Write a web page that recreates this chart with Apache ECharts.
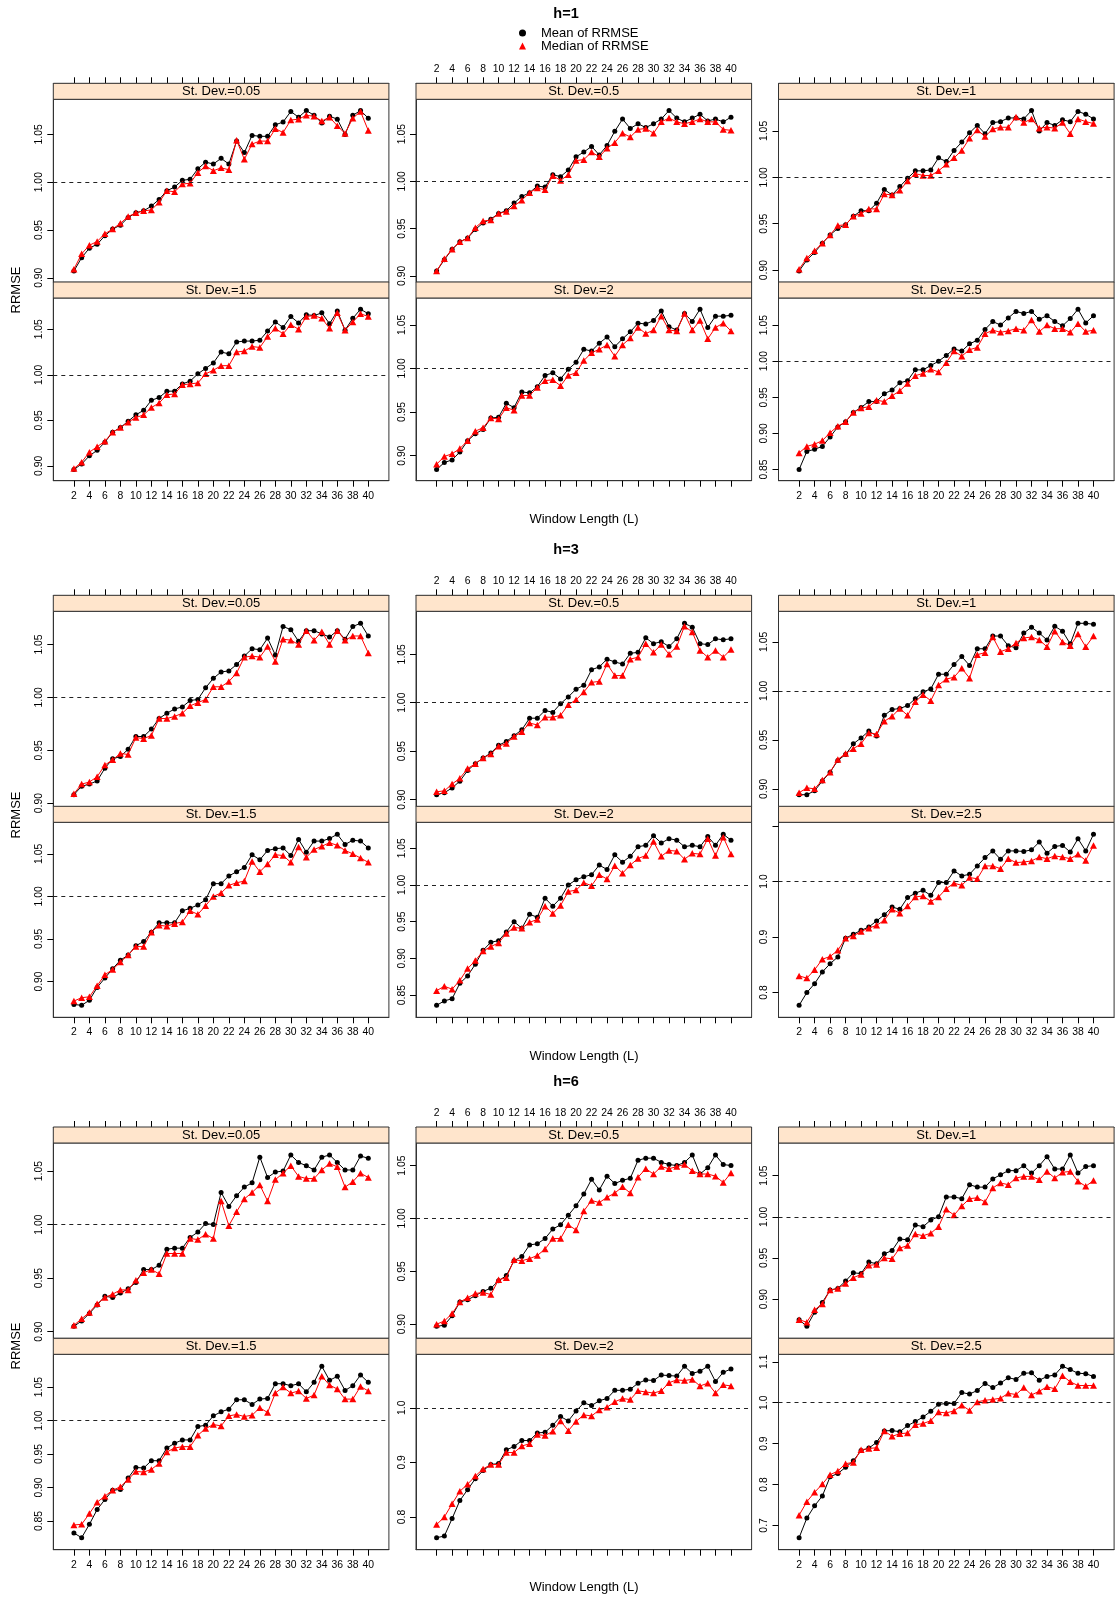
<!DOCTYPE html>
<html>
<head>
<meta charset="utf-8">
<title>RRMSE by window length</title>
<script src="https://cdn.jsdelivr.net/npm/echarts@6/dist/echarts.min.js"></script>
<style>
  html, body { margin: 0; padding: 0; background: #ffffff; }
  #chart { width: 1116px; height: 1598px; }
</style>
</head>
<body>
<div id="chart"></div>
<script>
// Window lengths on the x axis and the labelled ticks
const windowLengths = [2,3,4,5,6,7,8,9,10,11,12,13,14,15,16,17,18,19,20,21,22,23,24,25,26,27,28,29,30,31,32,33,34,35,36,37,38,39,40];
const xTickValues = [2,4,6,8,10,12,14,16,18,20,22,24,26,28,30,32,34,36,38,40];

// Forecast horizons (one block each) and noise levels (one panel each)
const horizons = ['h=1', 'h=3', 'h=6'];
const stDevLevels = ['0.05', '0.5', '1', '1.5', '2', '2.5'];
const seriesNames = ['Mean of RRMSE', 'Median of RRMSE'];

// ---- h = 1 ----
const h1_sd005_mean   = [0.907,0.921,0.931,0.935,0.944,0.951,0.955,0.963,0.968,0.970,0.975,0.982,0.991,0.995,1.002,1.003,1.014,1.021,1.019,1.025,1.019,1.043,1.031,1.049,1.048,1.048,1.060,1.063,1.074,1.068,1.075,1.070,1.062,1.069,1.066,1.050,1.070,1.075,1.067];
const h1_sd005_median = [0.909,0.925,0.934,0.938,0.946,0.951,0.957,0.964,0.968,0.970,0.971,0.979,0.991,0.990,0.998,0.999,1.010,1.017,1.012,1.015,1.013,1.044,1.024,1.040,1.043,1.043,1.056,1.052,1.065,1.066,1.070,1.069,1.064,1.068,1.059,1.051,1.067,1.074,1.054];
const h1_sd05_mean    = [0.905,0.917,0.928,0.936,0.940,0.949,0.956,0.960,0.966,0.969,0.977,0.984,0.988,0.995,0.994,1.007,1.005,1.012,1.026,1.031,1.037,1.028,1.038,1.053,1.066,1.056,1.061,1.057,1.061,1.066,1.075,1.067,1.063,1.067,1.071,1.064,1.066,1.063,1.068];
const h1_sd05_median  = [0.905,0.918,0.928,0.936,0.940,0.951,0.958,0.959,0.966,0.968,0.974,0.980,0.988,0.993,0.991,1.006,1.001,1.007,1.022,1.023,1.031,1.026,1.035,1.041,1.051,1.047,1.055,1.056,1.051,1.063,1.067,1.063,1.061,1.063,1.066,1.063,1.063,1.055,1.054];
const h1_sd1_mean     = [0.899,0.911,0.919,0.929,0.938,0.945,0.949,0.958,0.964,0.964,0.972,0.987,0.981,0.990,0.999,1.007,1.007,1.008,1.021,1.017,1.029,1.038,1.048,1.056,1.047,1.059,1.060,1.064,1.064,1.063,1.072,1.050,1.059,1.056,1.062,1.060,1.071,1.068,1.063];
const h1_sd1_median   = [0.901,0.913,0.921,0.929,0.938,0.948,0.949,0.958,0.961,0.966,0.966,0.982,0.981,0.986,0.996,1.004,1.002,1.002,1.007,1.014,1.021,1.029,1.042,1.051,1.044,1.052,1.054,1.054,1.065,1.059,1.063,1.053,1.054,1.053,1.059,1.047,1.063,1.060,1.058];
const h1_sd15_mean    = [0.896,0.902,0.911,0.917,0.926,0.937,0.942,0.949,0.956,0.961,0.972,0.975,0.982,0.982,0.990,0.993,1.001,1.007,1.013,1.025,1.023,1.036,1.037,1.037,1.038,1.048,1.058,1.052,1.064,1.057,1.066,1.065,1.068,1.056,1.070,1.049,1.062,1.072,1.067];
const h1_sd15_median  = [0.897,0.904,0.915,0.921,0.927,0.937,0.942,0.948,0.953,0.956,0.964,0.969,0.978,0.979,0.989,0.990,0.991,1.001,1.005,1.010,1.010,1.025,1.026,1.031,1.030,1.042,1.051,1.045,1.055,1.050,1.064,1.065,1.062,1.051,1.068,1.049,1.058,1.067,1.064];
const h1_sd2_mean     = [0.884,0.892,0.895,0.904,0.917,0.925,0.930,0.943,0.944,0.960,0.955,0.973,0.972,0.979,0.992,0.995,0.988,0.999,1.007,1.022,1.020,1.029,1.036,1.025,1.034,1.042,1.052,1.051,1.055,1.066,1.048,1.044,1.063,1.054,1.068,1.047,1.060,1.060,1.061];
const h1_sd2_median   = [0.890,0.899,0.902,0.908,0.917,0.928,0.932,0.943,0.942,0.955,0.952,0.969,0.969,0.978,0.986,0.987,0.980,0.992,0.995,1.009,1.018,1.022,1.027,1.014,1.027,1.035,1.047,1.040,1.044,1.060,1.044,1.043,1.063,1.044,1.055,1.034,1.047,1.052,1.043];
const h1_sd25_mean    = [0.850,0.875,0.878,0.882,0.895,0.909,0.916,0.929,0.936,0.944,0.944,0.955,0.960,0.970,0.973,0.988,0.988,0.994,1.000,1.008,1.017,1.014,1.024,1.029,1.044,1.055,1.050,1.060,1.069,1.066,1.069,1.058,1.063,1.055,1.049,1.059,1.072,1.053,1.063];
const h1_sd25_median  = [0.873,0.882,0.885,0.890,0.901,0.910,0.916,0.929,0.935,0.937,0.946,0.944,0.952,0.959,0.969,0.980,0.983,0.989,0.985,0.998,1.014,1.007,1.016,1.019,1.038,1.043,1.040,1.042,1.045,1.043,1.057,1.041,1.050,1.045,1.045,1.040,1.052,1.041,1.043];

// ---- h = 3 ----
const h3_sd005_mean   = [0.908,0.916,0.918,0.921,0.933,0.942,0.944,0.951,0.963,0.963,0.970,0.980,0.985,0.989,0.991,0.997,0.998,1.009,1.018,1.024,1.025,1.031,1.039,1.046,1.045,1.056,1.040,1.067,1.064,1.053,1.063,1.063,1.060,1.057,1.063,1.055,1.067,1.070,1.058];
const h3_sd005_median = [0.909,0.918,0.920,0.925,0.936,0.941,0.947,0.946,0.962,0.961,0.964,0.980,0.980,0.982,0.985,0.992,0.995,0.998,1.010,1.010,1.015,1.023,1.038,1.039,1.038,1.048,1.034,1.055,1.054,1.050,1.063,1.054,1.062,1.050,1.063,1.054,1.058,1.058,1.042];
const h3_sd05_mean    = [0.905,0.907,0.912,0.919,0.930,0.937,0.943,0.948,0.956,0.960,0.966,0.972,0.984,0.984,0.992,0.990,0.999,1.006,1.014,1.018,1.034,1.037,1.045,1.042,1.040,1.051,1.052,1.067,1.061,1.063,1.058,1.066,1.082,1.078,1.061,1.060,1.066,1.065,1.066];
const h3_sd05_median  = [0.908,0.909,0.916,0.922,0.932,0.937,0.943,0.947,0.955,0.958,0.965,0.970,0.979,0.977,0.985,0.985,0.987,0.998,1.003,1.011,1.021,1.022,1.040,1.028,1.028,1.045,1.047,1.061,1.052,1.060,1.050,1.058,1.079,1.073,1.054,1.047,1.054,1.047,1.055];
const h3_sd1_mean     = [0.894,0.894,0.898,0.908,0.917,0.929,0.935,0.946,0.952,0.959,0.954,0.975,0.981,0.982,0.985,0.992,0.999,1.002,1.017,1.017,1.027,1.035,1.026,1.043,1.043,1.056,1.056,1.046,1.044,1.059,1.065,1.059,1.052,1.066,1.061,1.048,1.069,1.069,1.068];
const h3_sd1_median   = [0.896,0.901,0.900,0.909,0.917,0.930,0.936,0.941,0.946,0.957,0.956,0.969,0.974,0.982,0.975,0.989,0.996,0.990,1.006,1.012,1.014,1.023,1.013,1.037,1.039,1.055,1.040,1.043,1.049,1.054,1.055,1.052,1.045,1.061,1.050,1.046,1.058,1.045,1.056];
const h3_sd15_mean    = [0.873,0.872,0.878,0.893,0.904,0.915,0.925,0.931,0.942,0.947,0.958,0.969,0.969,0.969,0.983,0.986,0.990,0.996,1.015,1.015,1.024,1.029,1.034,1.049,1.043,1.054,1.056,1.057,1.048,1.067,1.052,1.065,1.065,1.068,1.073,1.061,1.066,1.065,1.057];
const h3_sd15_median  = [0.877,0.881,0.882,0.895,0.908,0.914,0.923,0.931,0.941,0.941,0.958,0.966,0.965,0.968,0.970,0.983,0.979,0.989,1.000,1.004,1.013,1.016,1.018,1.041,1.029,1.038,1.049,1.048,1.040,1.058,1.046,1.055,1.059,1.063,1.060,1.054,1.050,1.045,1.040];
const h3_sd2_mean     = [0.836,0.842,0.845,0.866,0.876,0.892,0.911,0.922,0.924,0.936,0.950,0.941,0.960,0.956,0.982,0.971,0.982,1.000,1.007,1.011,1.014,1.027,1.021,1.041,1.031,1.039,1.052,1.054,1.067,1.057,1.063,1.061,1.052,1.054,1.052,1.066,1.054,1.069,1.061];
const h3_sd2_median   = [0.856,0.862,0.858,0.870,0.886,0.897,0.910,0.916,0.921,0.934,0.942,0.941,0.949,0.953,0.971,0.961,0.972,0.991,0.993,1.003,0.999,1.014,1.008,1.026,1.016,1.027,1.036,1.040,1.059,1.039,1.047,1.046,1.035,1.043,1.042,1.063,1.040,1.065,1.042];
const h3_sd25_mean    = [0.777,0.800,0.816,0.837,0.852,0.864,0.898,0.905,0.912,0.918,0.929,0.940,0.954,0.950,0.971,0.979,0.984,0.975,0.998,0.998,1.019,1.010,1.013,1.028,1.043,1.055,1.040,1.055,1.055,1.054,1.057,1.071,1.051,1.063,1.065,1.053,1.077,1.055,1.085];
const h3_sd25_median  = [0.830,0.826,0.841,0.860,0.865,0.876,0.898,0.902,0.910,0.916,0.921,0.930,0.950,0.943,0.956,0.972,0.974,0.964,0.972,0.987,0.997,0.993,1.007,1.005,1.028,1.028,1.023,1.041,1.034,1.035,1.037,1.044,1.041,1.046,1.044,1.041,1.049,1.038,1.065];

// ---- h = 6 ----
const h6_sd005_mean   = [0.905,0.910,0.917,0.925,0.933,0.932,0.936,0.940,0.946,0.958,0.958,0.962,0.977,0.978,0.978,0.988,0.993,1.001,1.000,1.030,1.017,1.027,1.035,1.039,1.063,1.044,1.049,1.050,1.065,1.058,1.055,1.051,1.063,1.065,1.058,1.051,1.051,1.064,1.062];
const h6_sd005_median = [0.906,0.912,0.918,0.926,0.932,0.935,0.939,0.939,0.948,0.955,0.958,0.954,0.973,0.973,0.973,0.987,0.986,0.991,0.987,1.022,0.999,1.012,1.024,1.030,1.037,1.022,1.042,1.048,1.055,1.045,1.043,1.043,1.051,1.057,1.054,1.035,1.040,1.048,1.044];
const h6_sd05_mean    = [0.898,0.899,0.908,0.921,0.923,0.927,0.931,0.934,0.941,0.946,0.960,0.964,0.975,0.976,0.981,0.990,0.994,1.003,1.012,1.023,1.037,1.027,1.040,1.033,1.036,1.038,1.055,1.057,1.057,1.053,1.051,1.050,1.053,1.060,1.042,1.048,1.060,1.051,1.050];
const h6_sd05_median  = [0.900,0.903,0.910,0.921,0.925,0.929,0.930,0.928,0.942,0.944,0.961,0.960,0.962,0.965,0.971,0.981,0.981,0.994,0.989,1.007,1.017,1.015,1.020,1.024,1.030,1.024,1.039,1.047,1.042,1.049,1.047,1.049,1.051,1.045,1.042,1.042,1.040,1.034,1.043];
const h6_sd1_mean     = [0.875,0.867,0.884,0.896,0.911,0.913,0.922,0.932,0.931,0.945,0.943,0.955,0.959,0.973,0.972,0.990,0.988,0.996,1.000,1.024,1.024,1.022,1.039,1.036,1.036,1.046,1.051,1.056,1.056,1.062,1.053,1.062,1.073,1.058,1.058,1.075,1.053,1.061,1.062];
const h6_sd1_median   = [0.875,0.872,0.887,0.894,0.911,0.913,0.919,0.926,0.930,0.941,0.942,0.950,0.949,0.962,0.965,0.979,0.977,0.980,0.988,1.009,1.002,1.013,1.022,1.023,1.018,1.035,1.041,1.039,1.047,1.049,1.049,1.045,1.055,1.047,1.054,1.055,1.043,1.037,1.044];
const h6_sd15_mean    = [0.832,0.825,0.845,0.867,0.882,0.896,0.897,0.914,0.930,0.929,0.940,0.940,0.959,0.966,0.971,0.971,0.991,0.993,1.007,1.013,1.017,1.031,1.031,1.024,1.032,1.033,1.055,1.055,1.052,1.055,1.043,1.057,1.081,1.060,1.066,1.045,1.052,1.068,1.057];
const h6_sd15_median  = [0.844,0.845,0.861,0.878,0.887,0.896,0.901,0.912,0.924,0.923,0.927,0.936,0.953,0.959,0.961,0.961,0.978,0.988,0.994,0.992,1.007,1.009,1.006,1.008,1.019,1.012,1.041,1.050,1.041,1.044,1.033,1.038,1.066,1.053,1.047,1.032,1.032,1.051,1.044];
const h6_sd2_mean     = [0.762,0.765,0.797,0.830,0.850,0.870,0.885,0.896,0.898,0.923,0.929,0.940,0.940,0.954,0.955,0.968,0.984,0.976,0.994,1.009,1.004,1.013,1.017,1.032,1.032,1.034,1.045,1.051,1.050,1.060,1.059,1.058,1.076,1.063,1.067,1.076,1.048,1.065,1.071];
const h6_sd2_median   = [0.786,0.800,0.824,0.847,0.860,0.875,0.888,0.896,0.896,0.918,0.918,0.930,0.934,0.951,0.949,0.957,0.976,0.958,0.975,0.987,0.985,0.996,1.001,1.011,1.017,1.015,1.031,1.029,1.027,1.031,1.046,1.051,1.050,1.052,1.040,1.045,1.027,1.042,1.040];
const h6_sd25_mean    = [0.670,0.718,0.748,0.772,0.819,0.827,0.842,0.858,0.883,0.889,0.903,0.931,0.932,0.929,0.944,0.954,0.965,0.979,0.996,0.998,0.998,1.025,1.021,1.030,1.047,1.037,1.048,1.061,1.057,1.072,1.073,1.055,1.064,1.068,1.089,1.081,1.072,1.071,1.064];
const h6_sd25_median  = [0.725,0.758,0.781,0.801,0.824,0.833,0.851,0.854,0.885,0.888,0.890,0.931,0.918,0.924,0.926,0.946,0.949,0.956,0.977,0.975,0.980,0.994,0.981,1.002,1.006,1.008,1.011,1.023,1.020,1.037,1.019,1.028,1.039,1.034,1.066,1.051,1.042,1.042,1.042];

// Panels of each block, in St. Dev. order
const meanPanels = [
  [h1_sd005_mean, h1_sd05_mean, h1_sd1_mean, h1_sd15_mean, h1_sd2_mean, h1_sd25_mean],
  [h3_sd005_mean, h3_sd05_mean, h3_sd1_mean, h3_sd15_mean, h3_sd2_mean, h3_sd25_mean],
  [h6_sd005_mean, h6_sd05_mean, h6_sd1_mean, h6_sd15_mean, h6_sd2_mean, h6_sd25_mean]
];
const medianPanels = [
  [h1_sd005_median, h1_sd05_median, h1_sd1_median, h1_sd15_median, h1_sd2_median, h1_sd25_median],
  [h3_sd005_median, h3_sd05_median, h3_sd1_median, h3_sd15_median, h3_sd2_median, h3_sd25_median],
  [h6_sd005_median, h6_sd05_median, h6_sd1_median, h6_sd15_median, h6_sd2_median, h6_sd25_median]
];

// ---- layout ----
const FONT = '"Liberation Sans", Arial, Helvetica, sans-serif';
const colLeft = [53.3, 416, 778.5];
const colWidth = 335.6;
const plotTop = [[99.3, 298], [611.3, 822.3], [1143, 1354.3]];
const plotHeight = [[183, 182.7], [195.4, 195], [195.3, 195.4]];
const stripH = 16;
const titleY = [13.5, 550, 1082.3];
const yNameY = [290, 815, 1346];
const xNameY = [519, 1056, 1587];
const PAD = 0.07;  // lattice-style axis padding
const borderColor = '#333333';

const xLo = windowLengths[0], xHi = windowLengths[windowLengths.length - 1];
const xMin = xLo - PAD * (xHi - xLo);
const xMax = xHi + PAD * (xHi - xLo);

const grids = [], xAxes = [], yAxes = [], series = [], graphics = [];

function yScale(a, b) {
  const lo = Math.min(Math.min(...a), Math.min(...b));
  const hi = Math.max(Math.max(...a), Math.max(...b));
  const pad = PAD * (hi - lo);
  const min = lo - pad, max = hi + pad;
  const step = (max - min) > 0.3 ? 0.1 : 0.05;
  const ticks = [];
  for (let k = Math.ceil(min / step - 1e-9); k * step <= max + 1e-9; k++) {
    ticks.push(Math.round(k * step * 100) / 100);
  }
  return { min, max, step, ticks };
}

let idx = 0;
for (let b = 0; b < horizons.length; b++) {
  graphics.push({
    type: 'text', x: 566, y: titleY[b], z: 10,
    style: { text: horizons[b], font: 'bold 14.5px ' + FONT, fill: '#000', textAlign: 'center', textVerticalAlign: 'middle' }
  });
  graphics.push({
    type: 'text', x: 16, y: yNameY[b], rotation: Math.PI / 2, z: 10,
    style: { text: 'RRMSE', font: '13px ' + FONT, fill: '#000', textAlign: 'center', textVerticalAlign: 'middle' }
  });
  graphics.push({
    type: 'text', x: 584, y: xNameY[b], z: 10,
    style: { text: 'Window Length (L)', font: '13px ' + FONT, fill: '#000', textAlign: 'center', textVerticalAlign: 'middle' }
  });

  for (let p = 0; p < stDevLevels.length; p++) {
    const row = Math.floor(p / 3), col = p % 3;
    const left = colLeft[col], top = plotTop[b][row], h = plotHeight[b][row];
    const meanVals = meanPanels[b][p], medVals = medianPanels[b][p];
    const ys = yScale(meanVals, medVals);
    const dec = ys.step < 0.1 ? 2 : 1;

    grids.push({
      left: left, top: top, width: colWidth, height: h,
      show: true, borderColor: borderColor, borderWidth: 1, backgroundColor: '#ffffff'
    });

    const showXLabels = (row === 0 && col === 1) || (row === 1 && col !== 1);
    xAxes.push({
      type: 'value', gridIndex: idx, min: xMin, max: xMax,
      position: row === 0 ? 'top' : 'bottom',
      offset: row === 0 ? stripH : 0,
      axisLine: { show: true, onZero: false, lineStyle: { color: borderColor, width: 1 } },
      axisTick: { show: true, inside: false, length: 6, customValues: xTickValues, lineStyle: { color: '#000', width: 1 } },
      axisLabel: {
        show: showXLabels, customValues: xTickValues, fontSize: 10.4, fontFamily: FONT,
        color: '#000', margin: row === 0 ? 9 : 10, hideOverlap: false
      },
      splitLine: { show: false }
    });

    yAxes.push({
      type: 'value', gridIndex: idx, min: ys.min, max: ys.max, position: 'left',
      axisLine: { show: true, onZero: false, lineStyle: { color: borderColor, width: 1 } },
      axisTick: { show: true, inside: false, length: 6, customValues: ys.ticks, lineStyle: { color: '#000', width: 1 } },
      axisLabel: {
        customValues: ys.ticks, rotate: 90, margin: 9, fontSize: 10.4, fontFamily: FONT, color: '#000',
        hideOverlap: false,
        formatter: function (v) {
          const fromTop = (ys.max - v) / (ys.max - ys.min) * h;
          return fromTop < 5 ? '' : Number(v).toFixed(dec);
        }
      },
      splitLine: { show: false }
    });

    series.push({
      type: 'line', name: seriesNames[0], xAxisIndex: idx, yAxisIndex: idx,
      data: windowLengths.map((L, i) => [L, meanVals[i]]),
      symbol: 'circle', symbolSize: 5, showSymbol: true,
      itemStyle: { color: '#000000' }, lineStyle: { color: '#000000', width: 1 },
      silent: true, animation: false, z: 3,
      markLine: {
        silent: true, symbol: ['none', 'none'], label: { show: false },
        lineStyle: { color: '#222222', width: 1, type: [4, 4] },
        data: [{ yAxis: 1 }], animation: false
      }
    });
    series.push({
      type: 'line', name: seriesNames[1], xAxisIndex: idx, yAxisIndex: idx,
      data: windowLengths.map((L, i) => [L, medVals[i]]),
      symbol: 'triangle', symbolSize: [7, 6.5], showSymbol: true,
      itemStyle: { color: '#ff0000' }, lineStyle: { color: '#ff0000', width: 1 },
      silent: true, animation: false, z: 4
    });

    // strip above each panel
    graphics.push({
      type: 'rect', z: 5,
      shape: { x: left, y: top - stripH, width: colWidth, height: stripH },
      style: { fill: '#FFE5CC', stroke: borderColor, lineWidth: 1 }
    });
    graphics.push({
      type: 'text', z: 6, x: left + colWidth / 2, y: top - stripH / 2 + 0.5,
      style: { text: 'St. Dev.=' + stDevLevels[p], font: '13px ' + FONT, fill: '#000', textAlign: 'center', textVerticalAlign: 'middle' }
    });
    idx++;
  }
}

const chart = echarts.init(document.getElementById('chart'), null, { renderer: 'canvas' });
chart.setOption({
  backgroundColor: '#ffffff',
  animation: false,
  legend: {
    orient: 'vertical', left: 514, top: 21.5,
    itemWidth: 7, itemHeight: 7, itemGap: 0,
    selectedMode: false,
    textStyle: { fontSize: 13, fontFamily: FONT, color: '#000', lineHeight: 12, padding: [0, 0, 0, 10] },
    data: [
      { name: seriesNames[0], icon: 'circle', itemStyle: { color: '#000000' } },
      { name: seriesNames[1], icon: 'triangle', itemStyle: { color: '#ff0000' } }
    ]
  },
  grid: grids,
  xAxis: xAxes,
  yAxis: yAxes,
  series: series,
  graphic: graphics
});
</script>
</body>
</html>
